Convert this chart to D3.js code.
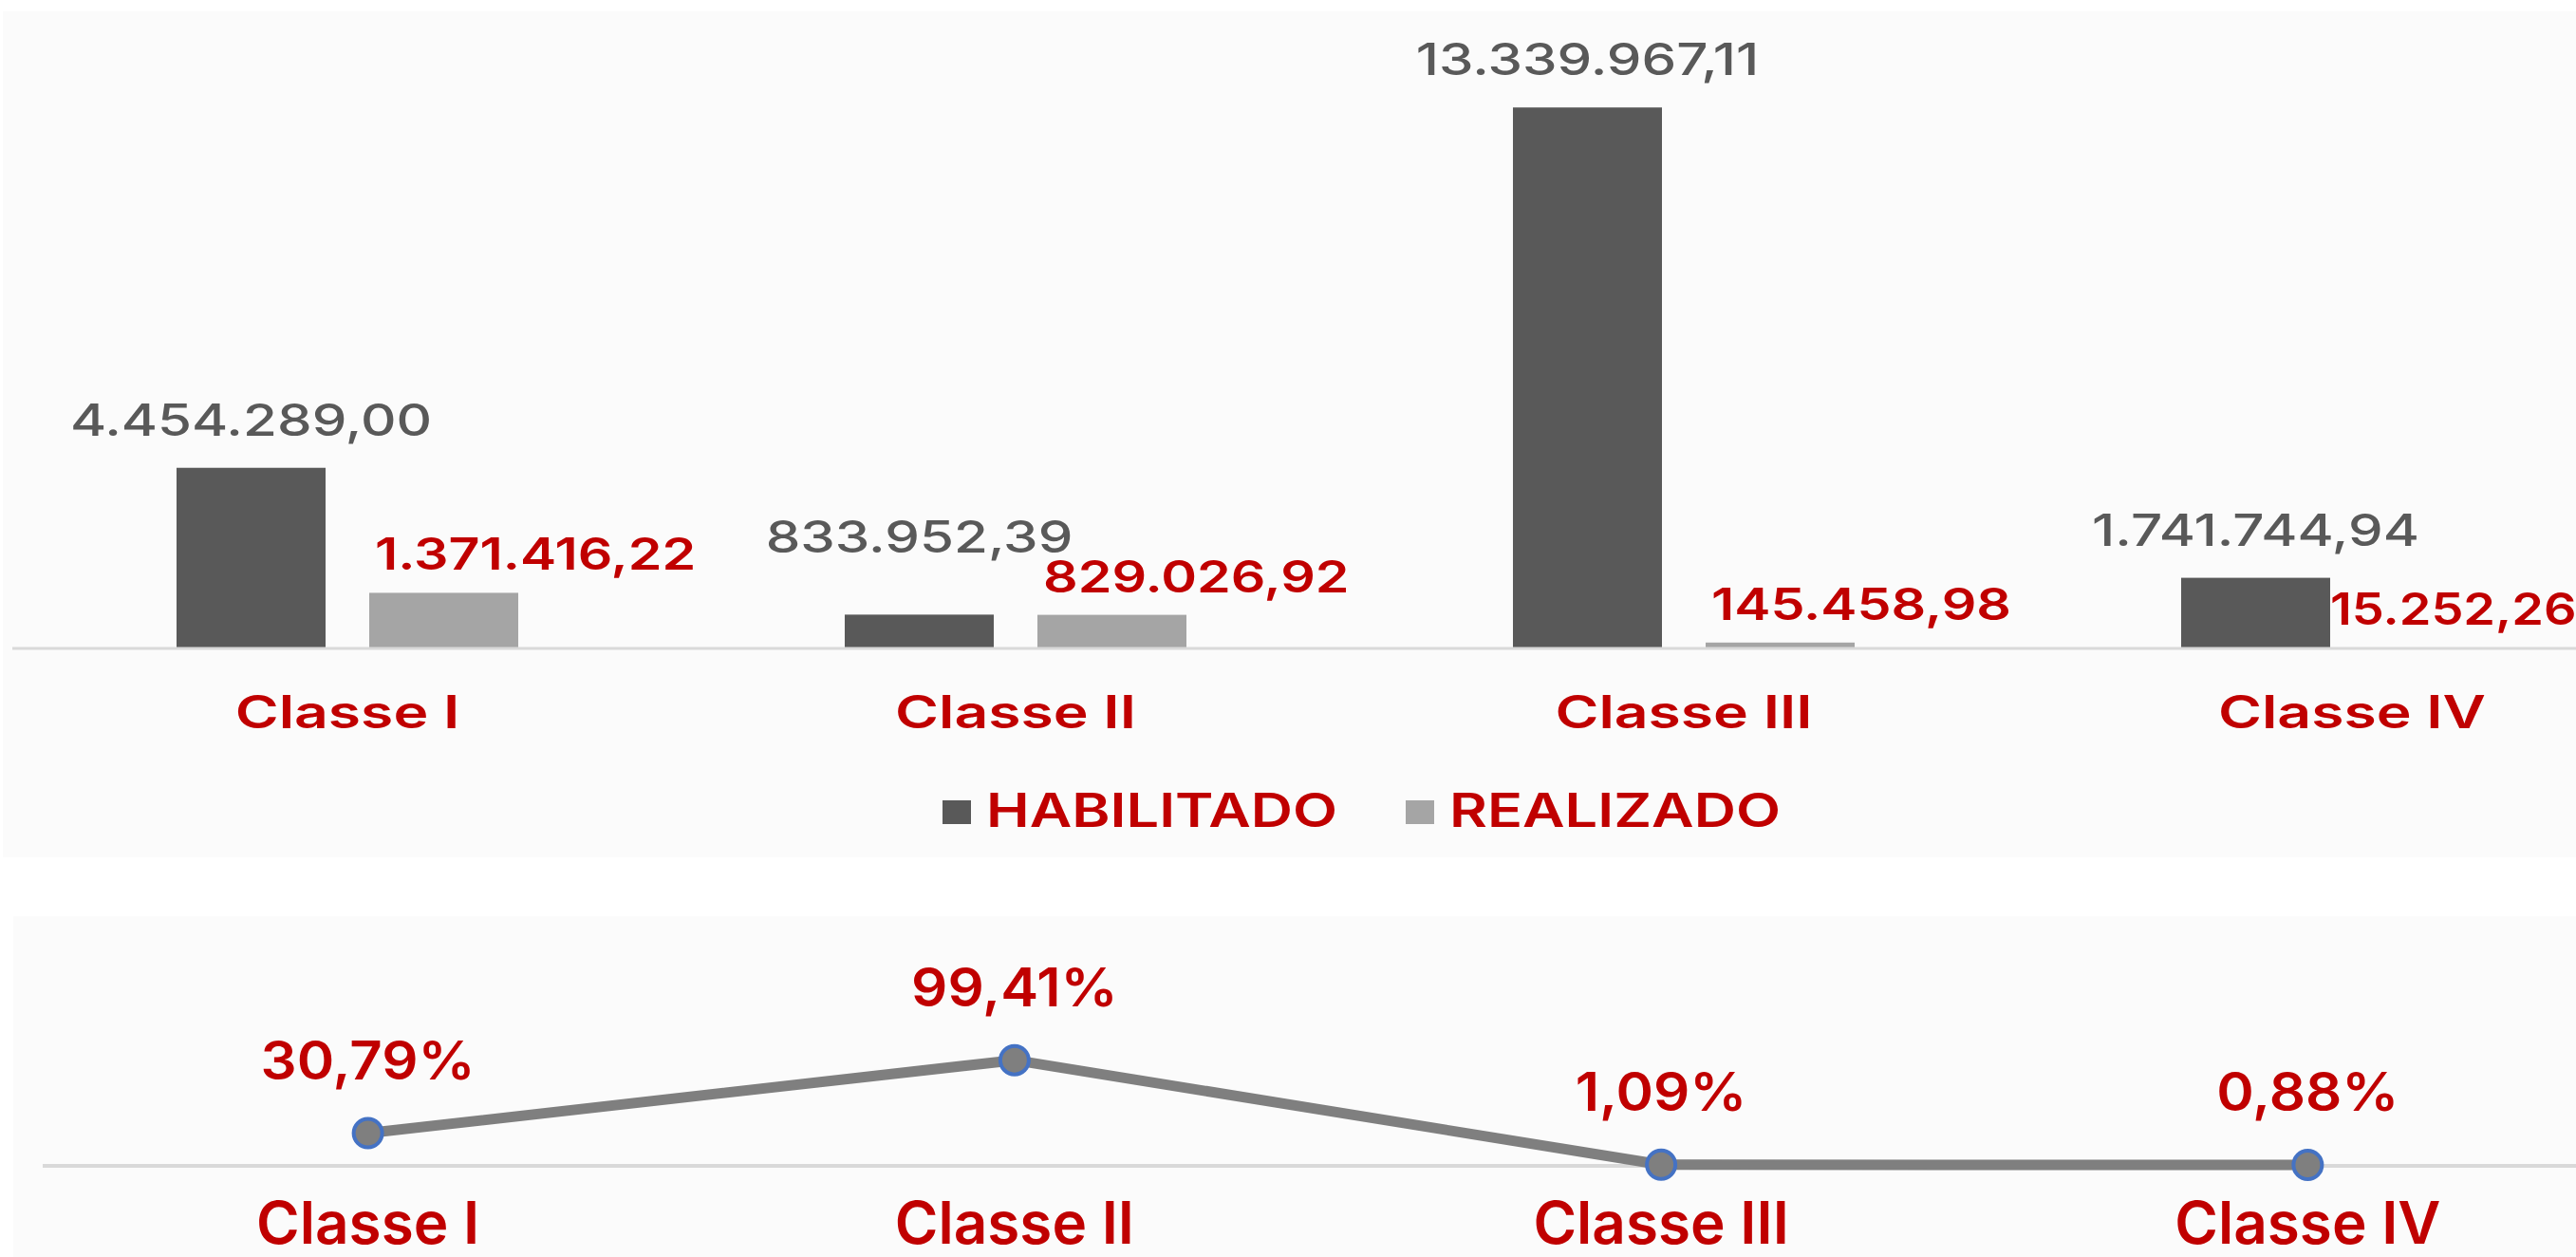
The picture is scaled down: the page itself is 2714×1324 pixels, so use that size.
<html>
<head>
<meta charset="utf-8">
<title>Habilitado x Realizado</title>
<style>
  body { margin: 0; background: #ffffff; }
  text { font-family: Inter, "Open Sans", sans-serif; }
</style>
</head>
<body>
<script src="https://cdn.jsdelivr.net/npm/d3@7"></script>
<script>
var width = 2714, height = 1324;

// dados
var categorias = ["Classe I", "Classe II", "Classe III", "Classe IV"];
var series = ["HABILITADO", "REALIZADO"];
var habilitado = [4454289.00, 833952.39, 13339967.11, 1741744.94];
var realizado = [1371416.22, 829026.92, 145458.98, 15252.26];
var percentual = [30.79, 99.41, 1.09, 0.88];

var cores = { HABILITADO: "#595959", REALIZADO: "#a5a5a5" };
var vermelho = "#c00000";
var SX = 1.2; // esticamento horizontal do texto

var br = d3.formatLocale({ decimal: ",", thousands: ".", grouping: [3], currency: ["R$ ", ""] });
var fmtValor = br.format(",.2f");
var fmtPct = function (v) { return br.format(".2f")(v) + "%"; };

var svg = d3.select("body").append("svg")
  .attr("width", width)
  .attr("height", height);

function texto(g, x, y, s, o) {
  var t = g.append("text")
    .attr("transform", "translate(" + x + "," + y + ") scale(" + (o.sx || SX) + ",1)")
    .attr("text-anchor", o.anchor || "middle")
    .attr("font-size", o.size)
    .attr("font-weight", o.weight || 600)
    .attr("fill", o.fill || vermelho)
    .text(s);
  return t;
}

// ---------- painel de cima: barras ----------
svg.append("rect").attr("x", 3).attr("y", 12).attr("width", width - 3).attr("height", 891).attr("fill", "#fbfbfb");

var x0 = d3.scaleBand().domain(categorias).range([14, 2830]).paddingInner(0.4886).paddingOuter(0.2443);
var x1 = d3.scaleBand().domain(series).range([0, x0.bandwidth()]).paddingInner(0.2266);
var y = d3.scaleLinear().domain([0, 14000000]).range([683, 85]);

var dados = categorias.map(function (c, i) {
  return { cat: c, HABILITADO: habilitado[i], REALIZADO: realizado[i] };
});

var gTop = svg.append("g");

var grupos = gTop.selectAll("g.grupo")
  .data(dados)
  .enter()
  .append("g")
  .attr("class", "grupo")
  .attr("transform", function (d) { return "translate(" + x0(d.cat) + ",0)"; });

grupos.selectAll("rect")
  .data(function (d) { return series.map(function (s) { return { s: s, v: d[s] }; }); })
  .enter()
  .append("rect")
  .attr("x", function (d) { return x1(d.s); })
  .attr("y", function (d) { return y(d.v); })
  .attr("width", x1.bandwidth())
  .attr("height", function (d) { return y(0) - y(d.v); })
  .attr("fill", function (d) { return cores[d.s]; });

gTop.append("line")
  .attr("x1", 13).attr("x2", width)
  .attr("y1", y(0)).attr("y2", y(0))
  .attr("stroke", "#d9d9d9").attr("stroke-width", 3);

// rótulos de valor
dados.forEach(function (d) {
  var gx = x0(d.cat);
  var xr = gx + x1("REALIZADO") + 6;
  var yr = y(d.REALIZADO) - 24;
  var tr = texto(gTop, xr, yr, fmtValor(d.REALIZADO), { size: 47, anchor: "start", weight: 600, sx: 1.22 });
  var w = tr.node().getComputedTextLength() * 1.22;
  if (xr + w > width - 4) {
    xr = gx + x1("HABILITADO") + x1.bandwidth();
    tr.attr("transform", "translate(" + xr + "," + yr + ") scale(1.15,1)");
  }
  var xh = gx + x1("HABILITADO") + x1.bandwidth() / 2;
  var yh = Math.min(y(d.HABILITADO) - 34, yr - 42);
  texto(gTop, xh, yh, fmtValor(d.HABILITADO), { size: 47, weight: 500, fill: "#595959", sx: 1.24 });
});

// eixo de categorias
categorias.forEach(function (c) {
  texto(gTop, x0(c) + x0.bandwidth() / 2, 767, c, { size: 48, sx: 1.3 });
});

// legenda
var leg = gTop.append("g");
var legX = [993, 1481];
series.forEach(function (s, i) {
  leg.append("rect").attr("x", legX[i]).attr("y", 843).attr("width", 30).attr("height", 25).attr("fill", cores[s]);
  texto(leg, legX[i] + 46, 871, s, { size: 49, anchor: "start", sx: 1.25 });
});

// ---------- painel de baixo: linha ----------
svg.append("rect").attr("x", 14).attr("y", 965).attr("width", width - 14).attr("height", height - 965).attr("fill", "#fbfbfb");

var xp = d3.scalePoint().domain(categorias).range([47, 2772]).padding(0.5);
var yp = d3.scaleLinear().domain([0, 100]).range([1228, 1116]);

var gBot = svg.append("g");

gBot.append("line")
  .attr("x1", 45).attr("x2", width)
  .attr("y1", yp(0)).attr("y2", yp(0))
  .attr("stroke", "#d9d9d9").attr("stroke-width", 4);

var pontos = categorias.map(function (c, i) { return { cat: c, v: percentual[i] }; });

var linha = d3.line()
  .x(function (d) { return xp(d.cat); })
  .y(function (d) { return yp(d.v); });

gBot.append("path")
  .datum(pontos)
  .attr("d", linha)
  .attr("fill", "none")
  .attr("stroke", "#7f7f7f")
  .attr("stroke-width", 11)
  .attr("stroke-linejoin", "round");

gBot.selectAll("circle")
  .data(pontos)
  .enter()
  .append("circle")
  .attr("cx", function (d) { return xp(d.cat); })
  .attr("cy", function (d) { return yp(d.v); })
  .attr("r", 15)
  .attr("fill", "#7f7f7f")
  .attr("stroke", "#4472c4")
  .attr("stroke-width", 4);

pontos.forEach(function (d) {
  texto(gBot, xp(d.cat), yp(d.v) - 57, fmtPct(d.v), { size: 56, sx: 1.07 });
});

categorias.forEach(function (c) {
  texto(gBot, xp(c), 1310, c, { size: 62, sx: 1.0 });
});
</script>
</body>
</html>
